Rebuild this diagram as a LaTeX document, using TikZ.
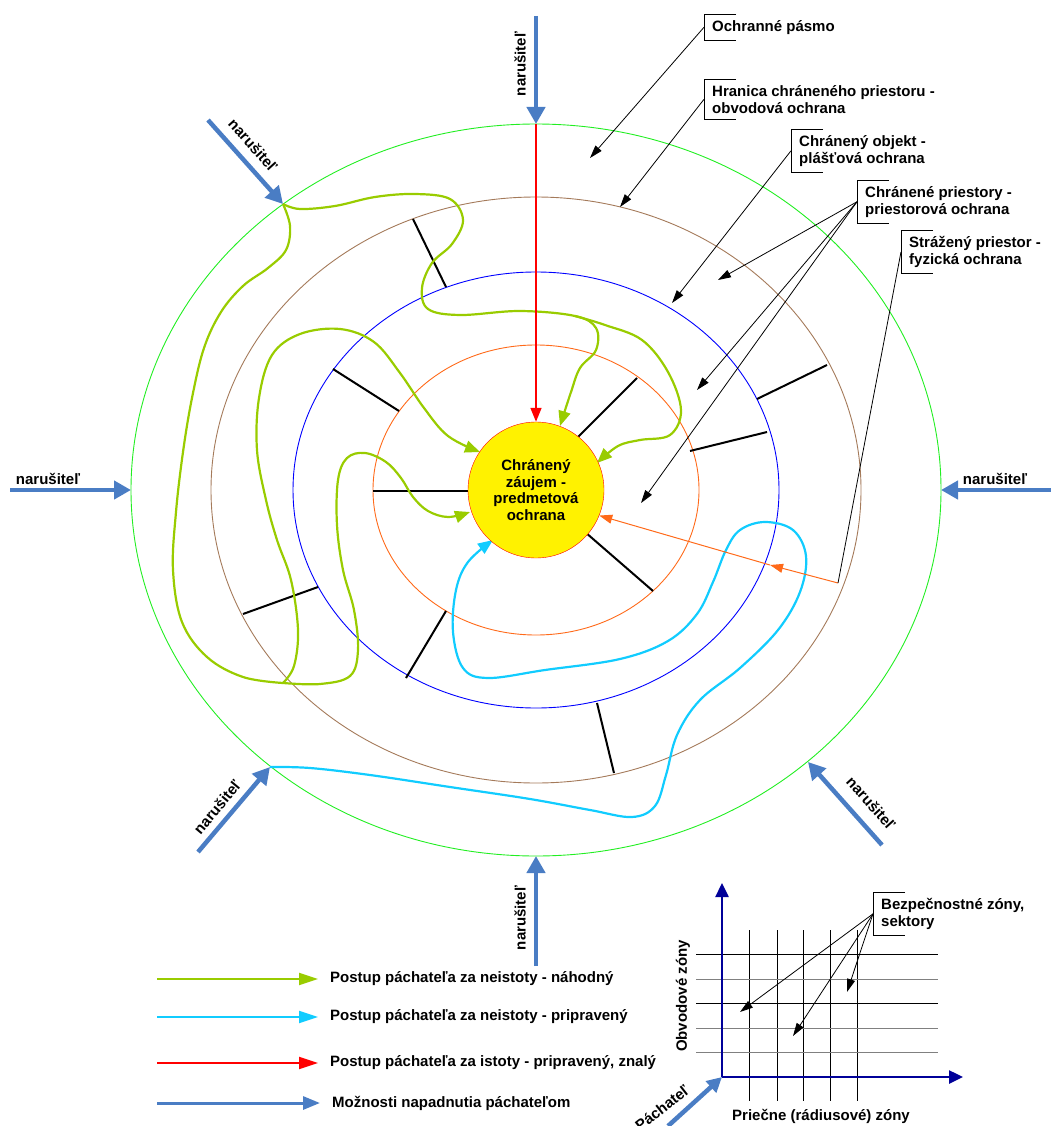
\documentclass[tikz,border=0pt]{standalone}
\usepackage{fontspec}
\setmainfont{Liberation Sans}
\usepackage{tikz}
\usetikzlibrary{positioning,arrows.meta,calc}
\definecolor{zonegreen}{HTML}{22EE22}
\definecolor{zonebrown}{HTML}{A47A5A}
\definecolor{zoneblue}{HTML}{0000FF}
\definecolor{zoneorange}{HTML}{FF6A1A}
\definecolor{pathgreen}{HTML}{99CC00}
\definecolor{pathcyan}{HTML}{11CCFF}
\definecolor{pathred}{HTML}{FF0000}
\definecolor{intblue}{HTML}{4A7DC4}
\definecolor{axisblue}{HTML}{000099}
\newcommand{\calloutbox}[1]{%
  \draw[line width=0.8pt] ([xshift=32pt]#1.north west) -- (#1.north west) -- (#1.south west) -- ([xshift=32pt]#1.south west);}

\begin{document}
\begin{tikzpicture}[
    x=1pt, y=-1pt,
    font=\fontsize{15}{17}\selectfont\bfseries,
    ring/.style={line width=0.9pt},
    bar/.style={line width=2pt},
    randpath/.style={draw=pathgreen, line width=2.2pt, -{Triangle[length=15pt,width=12pt]}},
    preppath/.style={draw=pathcyan, line width=2.2pt, -{Triangle[length=15pt,width=12pt]}},
    attack/.style={draw=intblue, line width=4.5pt, -{Triangle[length=17pt,width=18pt]}},
    callout/.style={anchor=north west, align=left, inner xsep=8pt, inner ysep=6pt},
    lead/.style={line width=0.8pt, -{Triangle[length=13pt,width=8pt]}},
    legend/.style={anchor=west, inner sep=0pt},
    axis/.style={draw=axisblue, line width=2.5pt, -{Triangle[length=14pt,width=13pt]}},
    tag/.style={inner sep=1pt}
]
    \useasboundingbox (0,0) rectangle (1051,1126);

    % Zones
    \coordinate (c) at (536,490);
    \draw[ring, zonegreen] (c) ellipse [x radius=405, y radius=366];
    \draw[ring, zonebrown] (c) ellipse [x radius=325, y radius=293];
    \draw[ring, zoneblue] (c) ellipse [x radius=243, y radius=218];
    \draw[ring, zoneorange] (c) ellipse [x radius=163, y radius=145];

    % Sector bars
    \foreach \xa/\ya/\xb/\yb in {413/219/446/287, 333/369/399/411, 373/491/470/491,
        243/614/318/587, 406/678/446/611, 597/703/614/773, 585/532/653/591,
        578/437/637/378, 690/451/767/432, 757/399/827/365}
        \draw[bar] (\xa,\ya) -- (\xb,\yb);

    % Random intruder (green)
    \draw[randpath] plot[smooth, tension=0.6] coordinates {(283,204) (300,209) (335,206) (375,197) (415,194) (450,199) (463,220) (452,244) (432,263) (422,288) (428,309) (460,315) (520,311) (575,316) (596,328) (596,350) (580,368) (571,392) (560,426)};
    \draw[randpath] plot[smooth, tension=0.6] coordinates {(575,316) (605,325) (642,340) (668,372) (681,410) (670,435) (640,440) (618,446) (597,463)};
    \draw[pathgreen, line width=2.2pt] plot[smooth, tension=0.6] coordinates {(283,204) (290,226) (286,250) (268,268) (243,286) (221,312) (204,348) (192,398) (183,452) (176,512) (173,570) (182,622) (207,657) (243,677) (283,683)};
    \draw[randpath] plot[smooth, tension=0.6] coordinates {(283,683) (294,666) (298,630) (291,580) (277,540) (266,500) (257,450) (259,398) (272,355) (300,334) (340,329) (374,342) (400,373) (424,408) (448,436) (480,452)};
    \draw[randpath] plot[smooth, tension=0.6] coordinates {(283,683) (320,684) (350,676) (358,650) (354,610) (343,570) (337,525) (338,480) (347,458) (365,453) (386,462) (401,478) (413,497) (428,511) (448,517) (470,512)};

    % Prepared intruder (cyan)
    \draw[preppath] plot[smooth, tension=0.6] coordinates {(270,767) (310,768) (370,775) (450,787) (530,799) (590,810) (632,817) (655,806) (666,775) (677,735) (700,700) (740,668) (778,630) (800,592) (806,556) (793,530) (765,522) (740,530) (726,550) (713,582) (697,614) (668,641) (620,659) (545,670) (488,678) (463,668) (453,632) (456,590) (468,562) (493,540)};

    % Protected interest
    \node[draw=pathred, fill=yellow, circle, minimum size=136pt, inner sep=0pt, align=center,
          font=\fontsize{15}{16.5}\selectfont\bfseries] (core) at (c) {Chránený\\záujem -\\predmetová\\ochrana};

    % Known intruder (red) and guarded space (orange)
    \coordinate (redIn) at (536,124);
    \draw[pathred, line width=1.6pt, -{Triangle[length=14pt,width=11pt]}] (redIn) -- (core.north);
    \coordinate (guard) at (838,583);
    \coordinate (guardMid) at (770,565);
    \draw[zoneorange, line width=1pt, -{Triangle[length=13pt,width=9pt]}] (guard) -- (guardMid);
    \draw[zoneorange, line width=1pt, -{Triangle[length=13pt,width=9pt]}] (guardMid) -- (core.-22);

    % Callouts
    \node[callout] (ochr) at (704,14) {Ochranné pásmo};
    \node[callout] (hran) at (704,79) {Hranica chráneného priestoru -\\obvodová ochrana};
    \node[callout] (plas) at (791,129) {Chránený objekt -\\plášťová ochrana};
    \node[callout] (prie) at (857,180) {Chránené priestory -\\priestorová ochrana};
    \node[callout] (fyz) at (901,230) {Strážený priestor -\\fyzická ochrana};
    \foreach \n in {ochr,hran,plas,prie,fyz} \calloutbox{\n};
    \coordinate (tOchr) at (590,158);
    \coordinate (tHran) at (620,207);
    \coordinate (tPlas) at (672,303);
    \coordinate (tPrie1) at (718,280);
    \coordinate (tPrie2) at (697,390);
    \coordinate (tPrie3) at (641,503);
    \draw[lead] (ochr.west) -- (tOchr);
    \draw[lead] (hran.west) -- (tHran);
    \draw[lead] (plas.west) -- (tPlas);
    \draw[lead] (prie.west) -- (tPrie1);
    \draw[lead] (prie.west) -- (tPrie2);
    \draw[lead] (prie.west) -- (tPrie3);
    \draw[line width=0.8pt] (fyz.west) -- (guard);

    % Intruders
    \coordinate (aTop) at (536,16);     \coordinate (hTop) at (536,124);
    \coordinate (aUL) at (208,120);     \coordinate (hUL) at (283,204);
    \coordinate (aL) at (10,490);       \coordinate (hL) at (131,490);
    \coordinate (aR) at (1051,490);     \coordinate (hR) at (941,490);
    \coordinate (aLL) at (198,852);     \coordinate (hLL) at (270,767);
    \coordinate (aLR) at (882,845);     \coordinate (hLR) at (808,762);
    \coordinate (aBot) at (536,966);    \coordinate (hBot) at (536,856);
    \foreach \s/\t in {aTop/hTop, aUL/hUL, aL/hL, aR/hR, aLL/hLL, aLR/hLR, aBot/hBot}
        \draw[attack] (\s) -- (\t);
    \node[tag, rotate=90] (nTop) at (520,64) {narušiteľ};
    \node[tag, rotate=-48] (nUL) at (253,145) {narušiteľ};
    \node[tag] (nL) at (48,479) {narušiteľ};
    \node[tag] (nR) at (995,479) {narušiteľ};
    \node[tag, rotate=50] (nLL) at (217,807) {narušiteľ};
    \node[tag, rotate=-48] (nLR) at (871,803) {narušiteľ};
    \node[tag, rotate=90] (nBot) at (520,918) {narušiteľ};

    % Legend
    \node[legend] (lg1) at (330,979) {Postup páchateľa za neistoty - náhodný};
    \node[legend] (lg2) at (330,1017) {Postup páchateľa za neistoty - pripravený};
    \node[legend] (lg3) at (330,1063) {Postup páchateľa za istoty - pripravený, znalý};
    \node[legend] (lg4) at (332,1103) {Možnosti napadnutia páchateľom};
    \coordinate (s1) at (157,979);
    \coordinate (s2) at (157,1017);
    \coordinate (s3) at (157,1063);
    \coordinate (s4) at (157,1103);
    \draw[pathgreen, line width=2pt, -{Triangle[length=19pt,width=12pt]}] (s1) -- ([xshift=-12pt]lg1.west);
    \draw[pathcyan, line width=2pt, -{Triangle[length=19pt,width=12pt]}] (s2) -- ([xshift=-12pt]lg2.west);
    \draw[pathred, line width=2pt, -{Triangle[length=19pt,width=12pt]}] (s3) -- ([xshift=-12pt]lg3.west);
    \draw[intblue, line width=3pt, -{Triangle[length=17pt,width=13pt]}] (s4) -- ([xshift=-12pt]lg4.west);

    % Zone grid
    \coordinate (o) at (722,1077);
    \coordinate (oy) at (722,883);
    \coordinate (ox) at (963,1077);
    \foreach \gx in {749,777,803,830,857}
        \draw[line width=0.8pt] (\gx,930) -- (\gx,1101);
    \foreach \gy/\gc in {954/black,979/gray,1003/black,1028/gray,1052/gray}
        \draw[line width=0.8pt, \gc] (696,\gy) -- (938,\gy);
    \draw[axis] (o) -- (oy);
    \draw[axis] (o) -- (ox);
    \node[tag, rotate=90] (obv) at (683,996) {Obvodové zóny};
    \node[tag] (prc) at (821,1116) {Priečne (rádiusové) zóny};
    \coordinate (pIn) at (668,1126);
    \draw[intblue, line width=4.5pt, -{Triangle[length=15pt,width=15pt]}] (pIn) -- (o);
    \node[tag, rotate=38] (pach) at (662,1108) {Páchateľ};
    \node[callout] (bez) at (873,892) {Bezpečnostné zóny,\\sektory};
    \calloutbox{bez};
    \coordinate (tBez1) at (740,1012);
    \coordinate (tBez2) at (793,1036);
    \coordinate (tBez3) at (847,992);
    \draw[lead] (bez.west) -- (tBez1);
    \draw[lead] (bez.west) -- (tBez2);
    \draw[lead] (bez.west) -- (tBez3);
\end{tikzpicture}
\end{document}
